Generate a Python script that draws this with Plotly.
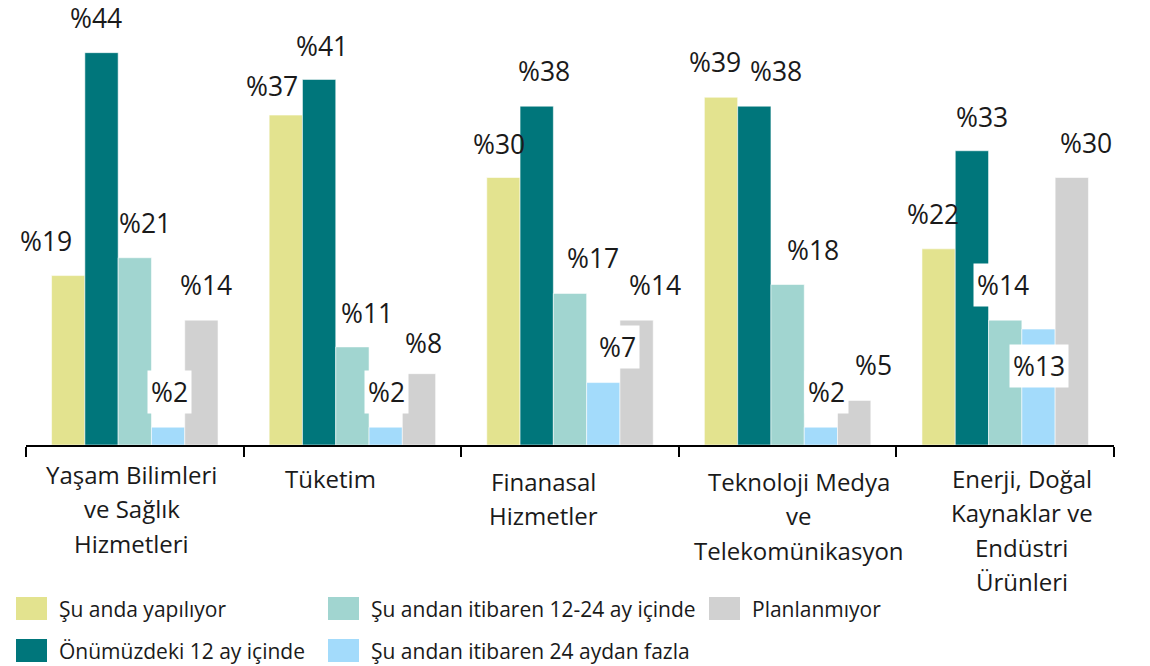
import plotly.graph_objects as go

# ---- data ----
categories = [
    "Yaşam Bilimleri<br>ve Sağlık<br>Hizmetleri",
    "Tüketim",
    "Finanasal<br>Hizmetler",
    "Teknoloji Medya<br>ve<br>Telekomünikasyon",
    "Enerji, Doğal<br>Kaynaklar ve<br>Endüstri<br>Ürünleri",
]
series_names = [
    "Şu anda yapılıyor",
    "Önümüzdeki 12 ay içinde",
    "Şu andan itibaren 12-24 ay içinde",
    "Şu andan itibaren 24 aydan fazla",
    "Planlanmıyor",
]
su_anda = [19, 37, 30, 39, 22]
onumuzdeki_12 = [44, 41, 38, 38, 33]
ay_12_24 = [21, 11, 17, 18, 14]
aydan_fazla_24 = [2, 2, 7, 2, 13]
planlanmiyor = [14, 8, 14, 5, 30]
series_values = [su_anda, onumuzdeki_12, ay_12_24, aydan_fazla_24, planlanmiyor]

# ---- style ----
colors = ["#E3E38F", "#00767B", "#A1D5D0", "#A3DBFB", "#D1D1D1"]
FONT = "Open Sans"
TXT = "#1A1A1A"
OFF = 8  # page body margin
W, H = 1150, 666
PW, PH = 1088, 428
ML, MT = 26 - OFF, 17 - OFF
MR = W - ML - PW
MB = H - MT - PH
bar_w = 0.153
n = len(series_names)

# label placement tweaks (pixels): [category][series]
label_dx = [
    [-22, -6, 10, 1, 4.5],
    [-14, 2.5, 14.5, 1.3, 5],
    [-4, 7, 23, 14, 18],
    [-6, 22, 25.5, 6, 19.5],
    [-6, 10, -2, 1, 14],
]
label_dy = [
    [35, 35, 35, 35, 35],
    [29, 33, 34, 35, 31],
    [34, 35, 35, 36, 35],
    [35, 35, 35, 35, 35],
    [35, 34, 35, -37, 35],
]
boxed_labels = {(0, 3), (1, 3), (2, 3), (3, 3), (4, 3), (4, 2)}
cat_dx = [-3, -22, -27, 11, 16.5]
cat_line1_y = [474, 478, 481, 481, 478]  # page px, centre of first line
cat_line_gap = 34.5

fig = go.Figure()
annotations = []
for j, (name, vals, col) in enumerate(zip(series_names, series_values, colors)):
    xs = [i + (j - (n - 1) / 2) * bar_w for i in range(len(categories))]
    fig.add_trace(go.Bar(
        x=xs, y=vals, width=bar_w, name=name,
        marker=dict(color=col, line=dict(color="rgba(255,255,255,0.55)", width=1)),
        showlegend=False,
    ))
    for i, (x, v) in enumerate(zip(xs, vals)):
        boxed = (i, j) in boxed_labels
        annotations.append(dict(
            x=x, y=v, xref="x", yref="y", text=f"%{v}", showarrow=False,
            yanchor="middle", xanchor="center",
            xshift=label_dx[i][j], yshift=label_dy[i][j],
            font=dict(family=FONT, size=26.5, color=TXT),
            bgcolor="white" if boxed else "rgba(0,0,0,0)",
            borderpad=3 if boxed else 0,
        ))

# category labels, one annotation per line
base_page = MT + PH + OFF
for i, c in enumerate(categories):
    for k, line in enumerate(c.split("<br>")):
        yc = cat_line1_y[i] + k * cat_line_gap
        annotations.append(dict(
            x=i, y=0, xref="x", yref="paper", text=line, showarrow=False,
            xanchor="center", yanchor="middle", xshift=cat_dx[i],
            yshift=-(yc - base_page),
            font=dict(family=FONT, size=24, color=TXT),
        ))

# manual legend (page px)
shapes = []
col_px = [16, 328, 709]
row_py = [608.5, 650.5]
legend_pos = [(0, 0), (0, 1), (1, 0), (1, 1), (2, 0)]


def px2x(p):
    return (p - OFF - ML) / PW


def py2y(p):
    return (MT + PH - (p - OFF)) / PH


for (ci, ri), name, col in zip(legend_pos, series_names, colors):
    shapes.append(dict(type="rect", xref="paper", yref="paper",
                       x0=px2x(col_px[ci]), x1=px2x(col_px[ci] + 31),
                       y0=py2y(row_py[ri] + 11.5), y1=py2y(row_py[ri] - 11.5),
                       fillcolor=col, line=dict(width=0)))
    annotations.append(dict(
        x=px2x(col_px[ci] + 41), y=py2y(row_py[ri]), xref="paper", yref="paper",
        text=name, showarrow=False, xanchor="left", yanchor="middle",
        font=dict(family=FONT, size=21, color=TXT),
    ))

fig.update_layout(
    width=W, height=H,
    margin=dict(l=ML, r=MR, t=MT, b=MB),
    paper_bgcolor="white", plot_bgcolor="white",
    barmode="overlay",
    xaxis=dict(range=[-0.5, len(categories) - 0.5],
               tickvals=[k - 0.5 for k in range(len(categories) + 1)],
               ticktext=[""] * (len(categories) + 1),
               ticks="outside", ticklen=10, tickwidth=1.5, tickcolor="black",
               showline=True, linecolor="black", linewidth=1.5,
               showgrid=False, zeroline=False, fixedrange=True),
    yaxis=dict(range=[0, 48], visible=False, showgrid=False, zeroline=False),
    annotations=annotations,
    shapes=shapes,
    showlegend=False,
)

fig.write_html("out.html")
